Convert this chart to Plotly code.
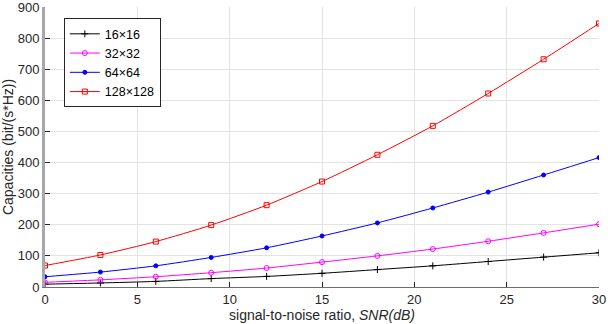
import plotly.graph_objects as go

snr_db = [0, 3, 6, 9, 12, 15, 18, 21, 24, 27, 30]

cap_16 = [9, 13, 18, 27, 34, 44, 56, 68, 82, 96, 110]
cap_32 = [15, 23, 33, 46, 61, 80, 100, 122, 147, 174, 202]
cap_64 = [33, 48, 68, 95, 126, 164, 206, 254, 305, 360, 416]
cap_128 = [69, 103, 146, 199, 263, 339, 425, 518, 622, 732, 847]

series = [
    ("16×16", cap_16, "#000000", "cross-thin-open", 5),
    ("32×32", cap_32, "#FF00FF", "circle-open", 5),
    ("64×64", cap_64, "#0000FF", "circle", 4),
    ("128×128", cap_128, "#FF0000", "square-open", 5),
]

FONT = "Liberation Sans, Arial, sans-serif"
AXIS_COLOR = "#262626"
GRID_COLOR = "#E3E3E3"

fig = go.Figure()
for name, vals, color, symbol, size in series:
    fig.add_trace(
        go.Scatter(
            x=snr_db, y=vals,
            mode="lines+markers",
            name=name,
            line=dict(color=color, width=1, shape="spline", smoothing=0.6),
            marker=dict(symbol=symbol, size=size, color=color,
                        line=dict(color=color, width=1)),
        )
    )

fig.update_layout(
    width=608, height=324,
    margin=dict(l=45, r=9, t=7, b=37, autoexpand=False),
    paper_bgcolor="white",
    plot_bgcolor="white",
    font=dict(family=FONT, size=13, color=AXIS_COLOR),
    showlegend=True,
    legend=dict(
        x=0.034, y=0.96, xanchor="left", yanchor="top",
        bgcolor="white", bordercolor=AXIS_COLOR, borderwidth=1,
        font=dict(family=FONT, size=12.5, color="#000000"),
        itemwidth=30, tracegroupgap=0,
    ),
    xaxis=dict(
        range=[0, 30], dtick=5, tick0=0,
        showgrid=True, gridcolor=GRID_COLOR, gridwidth=1,
        showline=True, linecolor="#6E6E6E", linewidth=1.2,
        ticks="inside", ticklen=5, tickcolor=AXIS_COLOR,
        tickfont=dict(family=FONT, size=13, color=AXIS_COLOR),
        zeroline=False, mirror=False, automargin=False,
        title=dict(text="signal-to-noise ratio, <i>SNR(dB)</i>",
                   font=dict(family=FONT, size=14, color=AXIS_COLOR), standoff=2),
    ),
    yaxis=dict(
        range=[0, 900.01], dtick=100, tick0=0,
        showgrid=True, gridcolor=GRID_COLOR, gridwidth=1,
        showline=True, linecolor="#A8A8A8", linewidth=3,
        ticks="inside", ticklen=5, tickcolor=AXIS_COLOR,
        tickfont=dict(family=FONT, size=13, color=AXIS_COLOR),
        ticklabeloverflow="allow",
        zeroline=False, mirror=False, automargin=False,
        title=dict(text="Capacities (bit/(s*Hz))",
                   font=dict(family=FONT, size=14, color=AXIS_COLOR), standoff=6),
    ),
)

fig.write_html(
    "out.html",
    config={"displayModeBar": False},
    post_script="document.body.style.margin='0';",
)
